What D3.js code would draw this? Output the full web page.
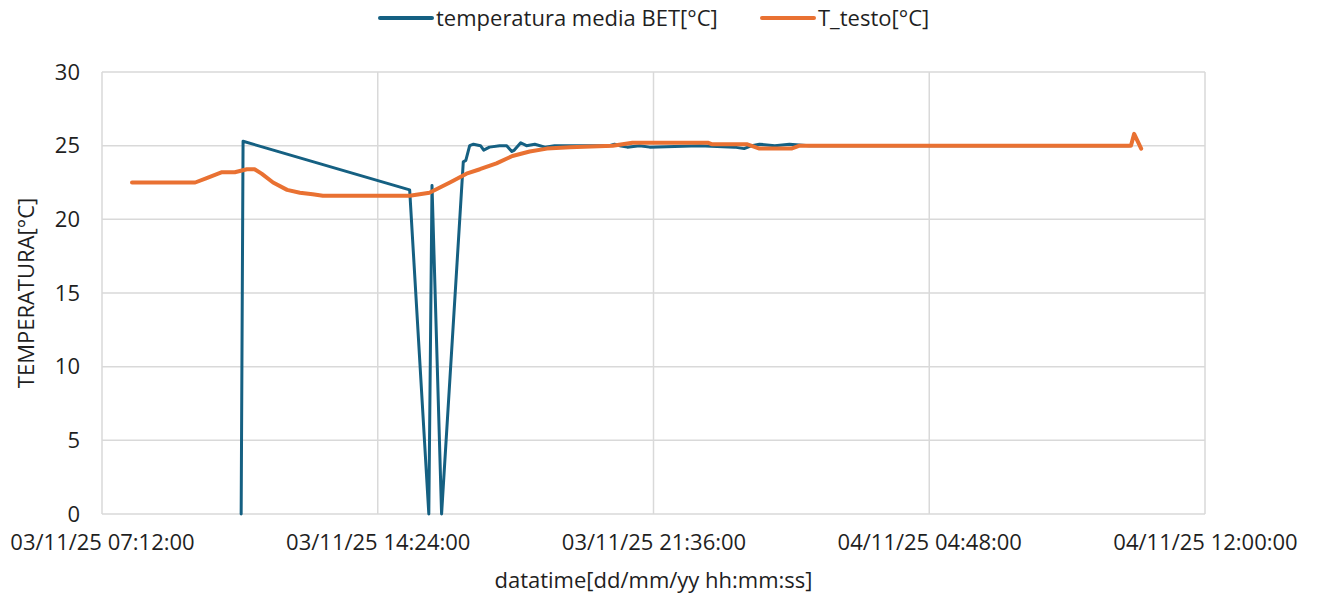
<!DOCTYPE html>
<html>
<head>
<meta charset="utf-8">
<script src="https://cdn.jsdelivr.net/npm/d3@7"></script>
<style>
  body { margin: 0; background: #fff; }
  svg { font-family: "Open Sans", "Noto Sans", sans-serif; }
</style>
</head>
<body>
<div class="chart"></div>
<script>
const width = 1317, height = 596;
const m = { top: 72, right: 112, bottom: 82, left: 102 };
const font = "'Open Sans', sans-serif";
const fs = 22;

// tick labels of the time axis
const xTicks = ["03/11/25 07:12:00", "03/11/25 14:24:00", "03/11/25 21:36:00",
                "04/11/25 04:48:00", "04/11/25 12:00:00"];
const yTicks = [0, 5, 10, 15, 20, 25, 30];

// temperatura media BET[°C]
const betTimes = ["03/11/25 10:50", "03/11/25 10:53", "03/11/25 15:14", "03/11/25 15:44",
  "03/11/25 15:49", "03/11/25 16:04", "03/11/25 16:38", "03/11/25 16:42", "03/11/25 16:48",
  "03/11/25 16:54", "03/11/25 17:05", "03/11/25 17:10", "03/11/25 17:19", "03/11/25 17:35",
  "03/11/25 17:46", "03/11/25 17:54", "03/11/25 17:58", "03/11/25 18:08", "03/11/25 18:17",
  "03/11/25 18:30", "03/11/25 18:46", "03/11/25 19:01", "03/11/25 19:40", "03/11/25 20:27",
  "03/11/25 20:35", "03/11/25 20:43", "03/11/25 20:55", "03/11/25 21:14", "03/11/25 21:30",
  "03/11/25 22:48", "03/11/25 23:43", "03/11/25 23:58", "04/11/25 00:10", "04/11/25 00:22",
  "04/11/25 00:46", "04/11/25 01:09", "04/11/25 01:40", "04/11/25 02:11", "04/11/25 02:58",
  "04/11/25 04:01", "04/11/25 05:30", "04/11/25 07:00", "04/11/25 08:30", "04/11/25 10:01"];
const betValues = [0, 25.3, 22.0, 0,
  22.3, 0, 23.9, 24.0, 25.0,
  25.1, 25.0, 24.7, 24.9, 25.0,
  25.0, 24.6, 24.7, 25.2, 25.0,
  25.1, 24.9, 25.0, 25.0, 25.0,
  25.1, 25.0, 24.9, 25.0, 24.9,
  25.0, 24.9, 24.8, 25.0, 25.1,
  25.0, 25.1, 25.0, 25.0, 25.0,
  25.0, 25.0, 25.0, 25.0, 25.0];

// T_testo[°C]
const testoTimes = ["03/11/25 07:59", "03/11/25 09:38", "03/11/25 09:56", "03/11/25 10:20",
  "03/11/25 10:40", "03/11/25 10:59", "03/11/25 11:11", "03/11/25 11:22", "03/11/25 11:40",
  "03/11/25 12:02", "03/11/25 12:22", "03/11/25 12:42", "03/11/25 12:58", "03/11/25 15:14",
  "03/11/25 15:45", "03/11/25 16:17", "03/11/25 16:43", "03/11/25 17:04", "03/11/25 17:30",
  "03/11/25 17:55", "03/11/25 18:22", "03/11/25 18:49", "03/11/25 19:25", "03/11/25 20:32",
  "03/11/25 21:03", "03/11/25 23:01", "03/11/25 23:07", "04/11/25 00:02", "04/11/25 00:22",
  "04/11/25 01:12", "04/11/25 01:25", "04/11/25 10:04", "04/11/25 10:09", "04/11/25 10:20"];
const testoValues = [22.5, 22.5, 22.8, 23.2,
  23.2, 23.4, 23.4, 23.1, 22.5,
  22.0, 21.8, 21.7, 21.6, 21.6,
  21.8, 22.5, 23.1, 23.4, 23.8,
  24.3, 24.6, 24.8, 24.9, 25.0,
  25.2, 25.2, 25.1, 25.1, 24.8,
  24.8, 25.0, 25.0, 25.8, 24.8];

const parseShort = d3.timeParse("%d/%m/%y %H:%M");
const parseLong = d3.timeParse("%d/%m/%y %H:%M:%S");

const svg = d3.select(".chart").append("svg")
    .attr("width", width)
    .attr("height", height);

const x = d3.scaleTime()
    .domain([parseLong(xTicks[0]), parseLong(xTicks[xTicks.length - 1])])
    .range([m.left, width - m.right]);
const y = d3.scaleLinear()
    .domain([0, 30])
    .range([height - m.bottom, m.top]);

// grid
svg.append("g")
    .selectAll("line")
    .data(yTicks)
    .join("line")
    .attr("x1", m.left).attr("x2", width - m.right)
    .attr("y1", d => y(d)).attr("y2", d => y(d))
    .attr("stroke", "#d9d9d9").attr("stroke-width", 1.5);
svg.append("g")
    .selectAll("line")
    .data(xTicks)
    .join("line")
    .attr("x1", d => x(parseLong(d))).attr("x2", d => x(parseLong(d)))
    .attr("y1", m.top).attr("y2", height - m.bottom)
    .attr("stroke", "#d9d9d9").attr("stroke-width", 1.5);

// axes
const yAxis = svg.append("g")
    .attr("transform", `translate(${m.left},0)`)
    .call(d3.axisLeft(y).tickValues(yTicks).tickSize(0).tickPadding(22));
yAxis.select(".domain").remove();
yAxis.selectAll("text").attr("font-size", fs).attr("fill", "#1f1f1f").attr("font-family", font);

const xAxis = svg.append("g")
    .attr("transform", `translate(0,${height - m.bottom})`)
    .call(d3.axisBottom(x).tickValues(xTicks.map(parseLong)).tickSize(0).tickPadding(20)
        .tickFormat((d, i) => xTicks[i]));
xAxis.select(".domain").remove();
xAxis.selectAll("text").attr("font-size", fs).attr("fill", "#1f1f1f").attr("font-family", font);

// axis titles
svg.append("text")
    .attr("x", (m.left + width - m.right) / 2)
    .attr("y", 588)
    .attr("text-anchor", "middle")
    .attr("font-size", fs).attr("fill", "#1f1f1f")
    .text("datatime[dd/mm/yy hh:mm:ss]");
svg.append("text")
    .attr("transform", `translate(34,${(m.top + height - m.bottom) / 2}) rotate(-90)`)
    .attr("text-anchor", "middle")
    .attr("font-size", fs).attr("fill", "#1f1f1f")
    .text("TEMPERATURA[°C]");

// lines
const line = d3.line().x(d => x(d[0])).y(d => y(d[1]));
const bet = betTimes.map((t, i) => [parseShort(t), betValues[i]]);
const testo = testoTimes.map((t, i) => [parseShort(t), testoValues[i]]);

svg.append("path")
    .datum(bet)
    .attr("d", line)
    .attr("fill", "none")
    .attr("stroke", "#156082")
    .attr("stroke-width", 3)
    .attr("stroke-linejoin", "round")
    .attr("stroke-linecap", "round");

svg.append("path")
    .datum(testo)
    .attr("d", line)
    .attr("fill", "none")
    .attr("stroke", "#e97132")
    .attr("stroke-width", 4)
    .attr("stroke-linejoin", "round")
    .attr("stroke-linecap", "round");

// legend
const legend = [
    { name: "temperatura media BET[°C]", color: "#156082", x: 380 },
    { name: "T_testo[°C]", color: "#e97132", x: 762 }
];
const lg = svg.append("g").selectAll("g").data(legend).join("g")
    .attr("transform", d => `translate(${d.x},18)`);
lg.append("line")
    .attr("x1", 0).attr("x2", 52).attr("y1", 0).attr("y2", 0)
    .attr("stroke", d => d.color).attr("stroke-width", 4).attr("stroke-linecap", "round");
lg.append("text")
    .attr("x", 56).attr("dy", "0.35em")
    .attr("font-size", fs).attr("fill", "#1f1f1f")
    .text(d => d.name);
</script>
</body>
</html>
